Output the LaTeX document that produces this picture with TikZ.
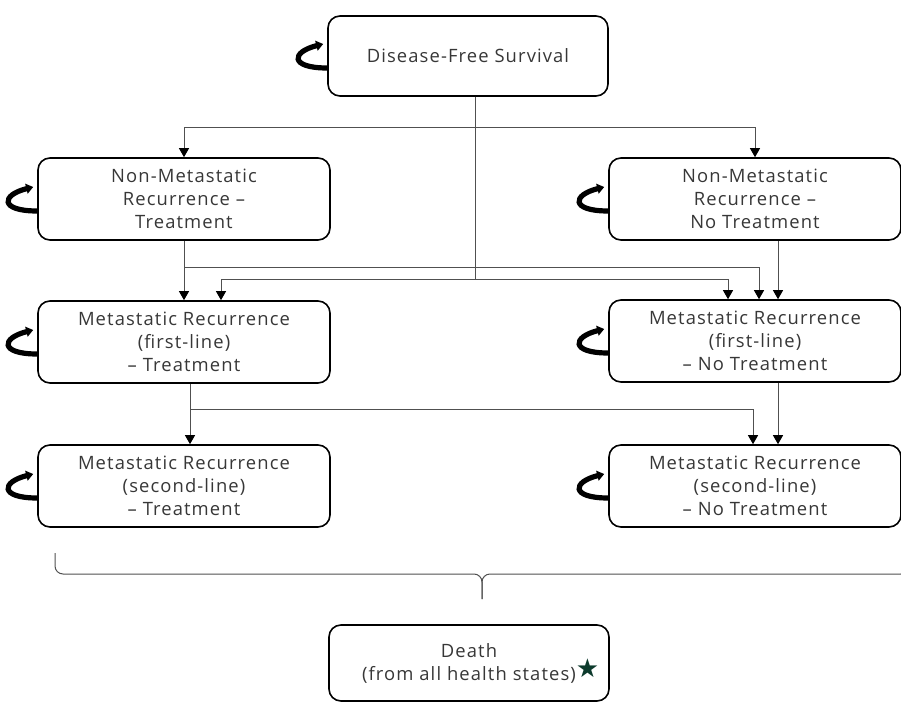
\documentclass[tikz,border=0pt]{standalone}
\usepackage{fontspec}
\setmainfont{Open Sans}[LetterSpace=6]
\newfontfamily\symbfont{DejaVu Sans}
\usepackage{tikz}
\definecolor{txtgray}{RGB}{55,55,55}
\definecolor{linegray}{RGB}{80,80,80}
\definecolor{stargreen}{RGB}{12,58,44}
\usetikzlibrary{arrows.meta, shapes}

\begin{document}
\begin{tikzpicture}[x=0.5pt, y=-0.5pt, %Pixelraster des Bildes
					state/.style={draw, line width=0.8pt, rounded corners=6pt, align=center, text=txtgray, minimum width=146pt, minimum height=41pt, inner sep=2pt},
					link/.style={draw=linegray, line width=0.5pt, -{Triangle[length=4.5pt,width=5pt,color=black]}},
					selfloop/.style={line width=2.6pt, -{Triangle[length=3.5pt,width=5pt]}},
					font=\fontsize{9.2}{11.5}\selectfont]
					\useasboundingbox (0,0) rectangle (901,702);
					\node[state, minimum width=140pt, minimum height=40pt] (dfs) at (468,56) {Disease-Free Survival};
					\node[state] (nmrt) at (184,199) {Non-Metastatic\\Recurrence –\\Treatment};
					\node[state] (nmrnt) at (755,199) {Non-Metastatic\\Recurrence –\\No Treatment};
					\node[state] (mr1t) at (184,342) {Metastatic Recurrence\\(first-line)\\– Treatment};
					\node[state] (mr1nt) at (755,341) {Metastatic Recurrence\\(first-line)\\– No Treatment};
					\node[state] (mr2t) at (184,486) {Metastatic Recurrence\\(second-line)\\– Treatment};
					\node[state] (mr2nt) at (755,486) {Metastatic Recurrence\\(second-line)\\– No Treatment};
					\node[state, minimum width=140pt, minimum height=38pt] (death) at (469,663) {Death\\(from all health states)\rlap{\raisebox{1.5pt}{\textcolor{stargreen}{\symbfont\fontsize{13}{13}\selectfont ★}}}};
					\foreach \s in {dfs,nmrt,nmrnt,mr1t,mr1nt,mr2t,mr2nt}
						\draw[selfloop] ([yshift=-6pt]\s.west) .. controls +(-19pt,0pt) and +(-16pt,-4pt) .. ([shift={(-2pt,6pt)}]\s.west);
					\draw[link] ([xshift=3.5pt]dfs.south) -- ++(0,31) -| (nmrt.north);
					\draw[link] ([xshift=3.5pt]dfs.south) -- ++(0,31) -| (nmrnt.north);
					\draw[link] ([xshift=3.5pt]dfs.south) -- ++(0,183) -| ([xshift=18.5pt]mr1t.north);
					\draw[link] ([xshift=3.5pt]dfs.south) -- ++(0,183) -| ([xshift=-13.5pt]mr1nt.north);
					\draw[link] (nmrt.south) -- (mr1t.north);
					\draw[link] (nmrt.south) -- ++(0,27) -| ([xshift=2pt]mr1nt.north);
					\draw[link] ([xshift=11.5pt]nmrnt.south) -- ([xshift=11.5pt]mr1nt.north);
					\draw[link] ([xshift=3pt]mr1t.south) -- ([xshift=3pt]mr2t.north);
					\draw[link] ([xshift=3pt]mr1t.south) -- ++(0,26) -| ([xshift=-1pt]mr2nt.north);
					\draw[link] ([xshift=11.5pt]mr1nt.south) -- ([xshift=11.5pt]mr2nt.north);
					\coordinate (braceL) at (55,553);
					\coordinate (braceR) at (909,553);
					\coordinate (braceTip) at (482,599);
					\draw[draw=linegray, line width=0.5pt, rounded corners=4pt] (braceL) |- (braceTip |- 0,574) -- (braceTip);
					\draw[draw=linegray, line width=0.5pt, rounded corners=4pt] (braceR) |- (braceTip |- 0,574) -- (braceTip);
				\end{tikzpicture}
\end{document}
